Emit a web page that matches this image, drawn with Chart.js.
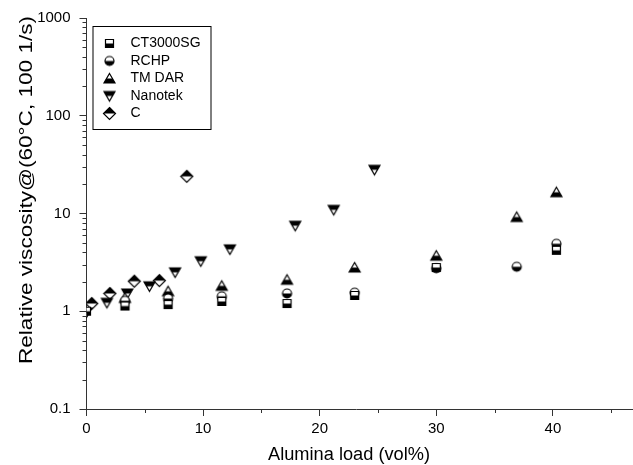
<!DOCTYPE html>
<html>
<head>
<meta charset="utf-8">
<script src="https://cdn.jsdelivr.net/npm/chart.js@4.4.0/dist/chart.umd.min.js"></script>
<style>
  html, body { margin: 0; padding: 0; background: #fff; }
</style>
</head>
<body>
<canvas id="chart" width="633" height="465"></canvas>
<script>
// data
const seriesNames = ['CT3000SG', 'RCHP', 'TM DAR', 'Nanotek', 'C'];

const ctsgLoad = [0, 3.3, 7.0, 11.6, 17.2, 23.0, 30.0, 40.3];
const ctsgVisc = [1.0, 1.13, 1.17, 1.26, 1.2, 1.45, 2.8, 4.2];

const rchpLoad = [3.3, 7.0, 11.6, 17.2, 23.0, 30.0, 36.9, 40.3];
const rchpVisc = [1.28, 1.35, 1.42, 1.52, 1.55, 2.75, 2.85, 4.9];

const tmdarLoad = [3.3, 7.0, 11.6, 17.2, 23.0, 30.0, 36.9, 40.3];
const tmdarVisc = [1.37, 1.6, 1.82, 2.1, 2.8, 3.7, 9.2, 16.5];

const nanoLoad = [0, 1.75, 3.5, 5.4, 7.6, 9.8, 12.3, 17.9, 21.2, 24.7];
const nanoVisc = [0.97, 1.22, 1.52, 1.8, 2.5, 3.25, 4.3, 7.5, 10.9, 28];

const cLoad = [0.45, 2.0, 4.1, 6.25, 8.6];
const cVisc = [1.2, 1.52, 2.03, 2.06, 24];

const xTickLabels = [0, 10, 20, 30, 40];
const yTickLabels = [0.1, 1, 10, 100, 1000];

const axisColor = '#333';
const fontFam = '"Liberation Sans", Arial, sans-serif';

function pts(xs, ys) {
  return xs.map((x, i) => ({ x: x, y: ys[i] }));
}

// half filled marker, drawn on a small canvas
function marker(shape, half) {
  const s = 15, m = s / 2;
  const cv = document.createElement('canvas');
  cv.width = s; cv.height = s;
  const c = cv.getContext('2d');
  c.beginPath();
  if (shape === 'square') {
    c.rect(m - 4, m - 4, 8, 8);
  } else if (shape === 'circle') {
    c.arc(m, m, 4.5, 0, Math.PI * 2);
  } else if (shape === 'up') {
    c.moveTo(m, m - 5); c.lineTo(m + 5.5, m + 4.5); c.lineTo(m - 5.5, m + 4.5); c.closePath();
  } else if (shape === 'down') {
    c.moveTo(m - 5.5, m - 4.5); c.lineTo(m + 5.5, m - 4.5); c.lineTo(m, m + 5); c.closePath();
  } else {
    c.moveTo(m, m - 6); c.lineTo(m + 6, m); c.lineTo(m, m + 6); c.lineTo(m - 6, m); c.closePath();
  }
  c.fillStyle = '#fff';
  c.fill();
  c.save();
  c.clip();
  c.fillStyle = '#000';
  if (half === 'bottom') c.fillRect(0, m, s, s);
  else c.fillRect(0, 0, s, m);
  c.restore();
  c.strokeStyle = '#000';
  c.lineWidth = 1.2;
  c.stroke();
  return cv;
}

const markers = [
  marker('square', 'bottom'),
  marker('circle', 'bottom'),
  marker('up', 'bottom'),
  marker('down', 'top'),
  marker('diamond', 'top')
];

const seriesData = [
  pts(ctsgLoad, ctsgVisc),
  pts(rchpLoad, rchpVisc),
  pts(tmdarLoad, tmdarVisc),
  pts(nanoLoad, nanoVisc),
  pts(cLoad, cVisc)
];

function isLabel(list, v) {
  return list.some(t => Math.abs(t - v) < 1e-9);
}

// extra bits: short minor ticks, axis titles, framed legend
const extras = {
  id: 'extras',
  afterDraw(chart) {
    const c = chart.ctx;
    const a = chart.chartArea;
    const xs = chart.scales.x, ys = chart.scales.y;
    c.save();
    c.strokeStyle = axisColor;
    c.lineWidth = 1;
    c.beginPath();
    // axis line runs on to the edge of the picture
    c.moveTo(a.right, Math.round(a.bottom) + 0.5); c.lineTo(chart.width, Math.round(a.bottom) + 0.5);
    xs.ticks.forEach(t => {
      if (isLabel(xTickLabels, t.value)) return;
      const px = Math.round(xs.getPixelForValue(t.value)) + 0.5;
      c.moveTo(px, a.bottom); c.lineTo(px, a.bottom + 4);
    });
    ys.ticks.forEach(t => {
      if (isLabel(yTickLabels, t.value)) return;
      const py = Math.round(ys.getPixelForValue(t.value)) + 0.5;
      c.moveTo(a.left, py); c.lineTo(a.left - 4, py);
    });
    c.stroke();

    // axis titles
    c.fillStyle = '#000';
    c.font = '18px ' + fontFam;
    c.textAlign = 'center';
    c.textBaseline = 'middle';
    const xt = 'Alumina load (vol%)';
    let w = c.measureText(xt).width;
    c.save();
    c.translate(349, 455);
    c.scale(162 / w, 1);
    c.fillText(xt, 0, 0);
    c.restore();

    const yt = 'Relative viscosity@(60\u00B0C, 100 1/s)';
    w = c.measureText(yt).width;
    c.save();
    c.translate(27, 190);
    c.rotate(-Math.PI / 2);
    c.scale(348 / w, 1);
    c.fillText(yt, 0, 0);
    c.restore();

    // legend box
    const lx = a.left + 6, ly = a.top + 8;
    c.strokeStyle = '#000';
    c.lineWidth = 1;
    c.strokeRect(lx + 0.5, ly + 0.5, 118, 103);
    c.font = '14px ' + fontFam;
    c.textAlign = 'left';
    chart.data.datasets.forEach((ds, i) => {
      const ry = ly + 17.5 + i * 17.5;
      const img = ds.pointStyle;
      c.drawImage(img, lx + 17 - img.width / 2, ry - img.height / 2);
      c.fillText(ds.label, lx + 38, ry);
    });
    c.restore();
  }
};

new Chart(document.getElementById('chart'), {
  type: 'scatter',
  data: {
    datasets: seriesNames.map((name, i) => ({
      label: name,
      data: seriesData[i],
      pointStyle: markers[i],
      pointRadius: 6,
      pointHoverRadius: 6,
      showLine: false
    }))
  },
  options: {
    responsive: false,
    animation: false,
    layout: { padding: { top: 18, right: 0, left: 0, bottom: 0 } },
    plugins: {
      legend: { display: false },
      tooltip: { enabled: false }
    },
    scales: {
      x: {
        type: 'linear',
        min: 0,
        max: 46.27,
        afterFit: s => { s.height = 56; },
        border: { display: true, color: axisColor, width: 1 },
        grid: {
          drawOnChartArea: false,
          drawTicks: true,
          tickLength: 7,
          tickColor: ctx => isLabel(xTickLabels, ctx.tick.value) ? axisColor : 'rgba(0,0,0,0)'
        },
        ticks: {
          stepSize: 5,
          includeBounds: false,
          autoSkip: false,
          maxRotation: 0,
          padding: 4,
          color: '#000',
          font: { family: fontFam, size: 15 },
          callback: v => isLabel(xTickLabels, v) ? String(v) : ''
        }
      },
      y: {
        type: 'logarithmic',
        min: 0.1,
        max: 1000,
        afterFit: s => { s.width = 86.5; },
        afterBuildTicks: s => {
          const t = [];
          for (let d = 0; d < yTickLabels.length; d++) {
            const base = yTickLabels[d];
            t.push({ value: base });
            if (d < yTickLabels.length - 1) {
              for (let k = 2; k <= 9; k++) t.push({ value: +(base * k).toPrecision(3) });
            }
          }
          s.ticks = t;
        },
        border: { display: true, color: axisColor, width: 1 },
        grid: {
          drawOnChartArea: false,
          drawTicks: true,
          tickLength: 7,
          tickColor: ctx => isLabel(yTickLabels, ctx.tick.value) ? axisColor : 'rgba(0,0,0,0)'
        },
        ticks: {
          autoSkip: false,
          padding: 9,
          color: '#000',
          font: { family: fontFam, size: 15 },
          callback: v => isLabel(yTickLabels, v) ? String(v) : ''
        }
      }
    }
  },
  plugins: [extras]
});
</script>
</body>
</html>
